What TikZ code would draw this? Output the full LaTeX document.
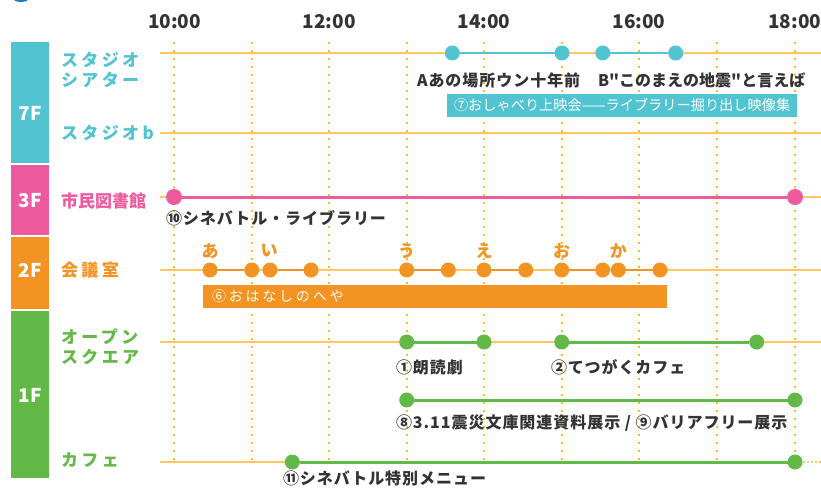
\documentclass[tikz,border=0pt]{standalone}
\usepackage{fontspec}
\setmainfont{Noto Sans CJK JP}
\newfontfamily\widejp[LetterSpace=20]{Noto Sans CJK JP}
\newfontfamily\eventjp[LetterSpace=6]{Noto Sans CJK JP}
\newfontfamily\tightjp{Noto Sans CJK JP}
\usepackage{tikz}
\definecolor{cyanF}{HTML}{52C4D1}
\definecolor{pinkF}{HTML}{EE5A9E}
\definecolor{orangeF}{HTML}{F39322}
\definecolor{greenF}{HTML}{63B947}
\definecolor{rowyellow}{HTML}{FFC85E}
\definecolor{dotyellow}{HTML}{FCB72B}
\definecolor{ink}{HTML}{333333}
\definecolor{topblue}{HTML}{1E78C2}
\newcommand{\timefont}{\bfseries\fontsize{19}{19}\selectfont}
\newcommand{\floorfont}{\bfseries\fontsize{19}{19}\selectfont}
\newcommand{\roomfont}{\widejp\bfseries\fontsize{17}{20}\selectfont}
\newcommand{\eventfont}{\eventjp\bfseries\fontsize{16}{16}\selectfont}
\newcommand{\bandfont}{\fontsize{14.2}{15}\selectfont}
\tikzset{rowline/.style={draw=rowyellow, line width=2pt}}
\tikzset{hourline/.style={draw=dotyellow, line width=2pt, dash pattern=on 2pt off 6pt}}

\begin{document}
\begin{tikzpicture}[x=1pt, y=-1pt]
	% Default action for each node
	\tikzstyle{every node}=[inner sep=0pt, outer sep=0pt, text=ink];
	\tikzstyle{tdot}=[circle, minimum size=15pt];
	\tikzstyle{floorlbl}=[text=white, font=\floorfont];
	\tikzstyle{roomlbl}=[anchor=west, align=left, font=\roomfont];
	\tikzstyle{eventlbl}=[anchor=west, font=\eventfont];
	\tikzstyle{kana}=[text=orangeF, font=\roomfont];
	\tikzstyle{band}=[anchor=west, align=left, inner xsep=7pt, minimum height=23pt, text=white, font=\bandfont];

	\useasboundingbox (0,0) rectangle (821,493);
	\fill[topblue] (21,-11) ellipse (14pt and 13pt);

	% Hours
	\coordinate (h10 north) at (174,42);	\coordinate (h10 south) at (174,462);
	\coordinate (h11 north) at (251.7,42);	\coordinate (h11 south) at (251.7,462);
	\coordinate (h12 north) at (329.3,42);	\coordinate (h12 south) at (329.3,462);
	\coordinate (h13 north) at (406.7,42);	\coordinate (h13 south) at (406.7,462);
	\coordinate (h14 north) at (484,42);	\coordinate (h14 south) at (484,462);
	\coordinate (h15 north) at (561.7,42);	\coordinate (h15 south) at (561.7,462);
	\coordinate (h16 north) at (639,42);	\coordinate (h16 south) at (639,462);
	\coordinate (h17 north) at (716.7,42);	\coordinate (h17 south) at (716.7,462);
	\coordinate (h18 north) at (795,42);	\coordinate (h18 south) at (795,462);

	\draw[hourline] (h10 north) -- (h10 south);
	\draw[hourline] (h11 north) -- (h11 south);
	\draw[hourline] (h12 north) -- (h12 south);
	\draw[hourline] (h13 north) -- (h13 south);
	\draw[hourline] (h14 north) -- (h14 south);
	\draw[hourline] (h15 north) -- (h15 south);
	\draw[hourline] (h16 north) -- (h16 south);
	\draw[hourline] (h17 north) -- (h17 south);
	\draw[hourline] (h18 north) -- (h18 south);

	% Time labels
	\node[font=\timefont] (t10) at (174.5,22) {10:00};
	\node[font=\timefont] (t12) at (329.3,22) {12:00};
	\node[font=\timefont] (t14) at (484,22) {14:00};
	\node[font=\timefont] (t16) at (639,22) {16:00};
	\node[font=\timefont] (t18) at (794.7,22) {18:00};

	% Floors
	\fill[cyanF] (11,42) rectangle (49,163);
	\fill[pinkF] (11,165) rectangle (49,235);
	\fill[orangeF] (11,237) rectangle (49,309);
	\fill[greenF] (11,311) rectangle (49,478);
	\node[floorlbl] (f7) at (30,113) {7F};
	\node[floorlbl] (f3) at (30,201) {3F};
	\node[floorlbl] (f2) at (30,270) {2F};
	\node[floorlbl] (f1) at (30,395) {1F};

	% Rooms
	\node[roomlbl, text=cyanF] (theater) at (61,70) {スタジオ\\シアター};
	\node[roomlbl, text=cyanF] (studiob) at (61,133) {スタジオb};
	\node[roomlbl, text=pinkF, font=\bfseries\fontsize{17}{20}\selectfont] (library) at (61,201) {市民図書館};
	\node[roomlbl, text=orangeF] (meeting) at (61,270) {会議室};
	\node[roomlbl, text=greenF] (square) at (61,347) {オープン\\スクエア};
	\node[roomlbl, text=greenF] (cafe) at (61,460) {カフェ};

	% Rows
	\coordinate (theater west) at (160,53);		\coordinate (theater east) at (821,53);
	\coordinate (studiob west) at (160,133);	\coordinate (studiob east) at (821,133);
	\coordinate (library west) at (160,197);	\coordinate (library east) at (821,197);
	\coordinate (meeting west) at (160,270);	\coordinate (meeting east) at (821,270);
	\coordinate (square west) at (160,342);		\coordinate (square east) at (821,342);
	\coordinate (cafe west) at (160,462);		\coordinate (cafe end) at (795,462);		\coordinate (cafe east) at (821,462);

	\draw[rowline] (theater west) -- (theater east);
	\draw[rowline] (studiob west) -- (studiob east);
	\draw[rowline] (library west) -- (library east);
	\draw[rowline] (meeting west) -- (meeting east);
	\draw[rowline] (square west) -- (square east);
	\draw[rowline] (cafe west) -- (cafe end);
	\draw[rowline, dash pattern=on 2pt off 2pt] (cafe end) -- (cafe east);

	% Bands
	\node[band, fill=cyanF, text width=336pt] (talk) at (447,105.5) {\mbox{⑦おしゃべり上映会——ライブラリー掘り出し映像集}};
	\node[band, fill=orangeF, text width=446pt, inner xsep=9pt, font=\widejp\fontsize{14}{14}\selectfont] (story) at (203,296.5) {⑥おはなしのへや};

	% 7F studio theater
	\node[tdot, fill=cyanF] (a1) at (452.3,53) {};	\node[tdot, fill=cyanF] (a2) at (562,53) {};
	\node[tdot, fill=cyanF] (b1) at (602.7,53) {};	\node[tdot, fill=cyanF] (b2) at (675.7,53) {};
	\draw[cyanF, line width=2.7pt] (a1) -- (a2);
	\draw[cyanF, line width=2.7pt] (b1) -- (b2);
	\node[eventlbl] (a text) at (417,80) {Aあの場所ウン十年前};
	\node[eventlbl, font=\tightjp\bfseries\fontsize{16}{16}\selectfont] (b text) at (598,80) {B"このまえの地震"と言えば};

	% 3F library
	\node[tdot, fill=pinkF, minimum size=16pt] (l1) at (174,197) {};
	\node[tdot, fill=pinkF, minimum size=16pt] (l2) at (795,197) {};
	\draw[pinkF, line width=3pt] (l1) -- (l2);
	\node[eventlbl] (l text) at (166,218) {⑩シネバトル・ライブラリー};

	% 2F meeting room
	\node[tdot, fill=orangeF] (m1) at (210,270) {};		\node[tdot, fill=orangeF] (m2) at (251.7,270) {};
	\node[tdot, fill=orangeF] (m3) at (270,270) {};		\node[tdot, fill=orangeF] (m4) at (311,270) {};
	\node[tdot, fill=orangeF] (m5) at (406.7,270) {};	\node[tdot, fill=orangeF] (m6) at (448.3,270) {};
	\node[tdot, fill=orangeF] (m7) at (484,270) {};		\node[tdot, fill=orangeF] (m8) at (525.7,270) {};
	\node[tdot, fill=orangeF] (m9) at (561.7,270) {};	\node[tdot, fill=orangeF] (m10) at (602.7,270) {};
	\node[tdot, fill=orangeF] (m11) at (618.3,270) {};	\node[tdot, fill=orangeF] (m12) at (660,270) {};
	\draw[orangeF, line width=2.7pt] (m1) -- (m2);
	\draw[orangeF, line width=2.7pt] (m3) -- (m4);
	\draw[orangeF, line width=2.7pt] (m5) -- (m6);
	\draw[orangeF, line width=2.7pt] (m7) -- (m8);
	\draw[orangeF, line width=2.7pt] (m9) -- (m10);
	\draw[orangeF, line width=2.7pt] (m11) -- (m12);
	\node[kana] (k1) at (210,251) {あ};
	\node[kana] (k2) at (269,251) {い};
	\node[kana] (k3) at (406.7,251) {う};
	\node[kana] (k4) at (484,251) {え};
	\node[kana] (k5) at (561.7,251) {お};
	\node[kana] (k6) at (618.3,251) {か};

	% 1F open square
	\node[tdot, fill=greenF] (s1) at (406.7,342) {};	\node[tdot, fill=greenF] (s2) at (484,342) {};
	\node[tdot, fill=greenF] (s3) at (561.7,342) {};	\node[tdot, fill=greenF] (s4) at (756.7,342) {};
	\draw[greenF, line width=3pt] (s1) -- (s2);
	\draw[greenF, line width=3pt] (s3) -- (s4);
	\node[eventlbl] (s1 text) at (396,367) {①朗読劇};
	\node[eventlbl] (s3 text) at (551,367) {②てつがくカフェ};

	\node[tdot, fill=greenF] (e1) at (406.7,400) {};	\node[tdot, fill=greenF] (e2) at (795,400) {};
	\draw[greenF, line width=3pt] (e1) -- (e2);
	\node[eventlbl] (e text) at (396,423) {⑧3.11震災文庫関連資料展示 / ⑨バリアフリー展示};

	% 1F cafe
	\node[tdot, fill=greenF] (c1) at (292.3,462) {};	\node[tdot, fill=greenF] (c2) at (795,462) {};
	\draw[greenF, line width=3pt] (c1) -- (c2);
	\node[eventlbl] (c text) at (283,478) {⑪シネバトル特別メニュー};

\end{tikzpicture}
\end{document}
